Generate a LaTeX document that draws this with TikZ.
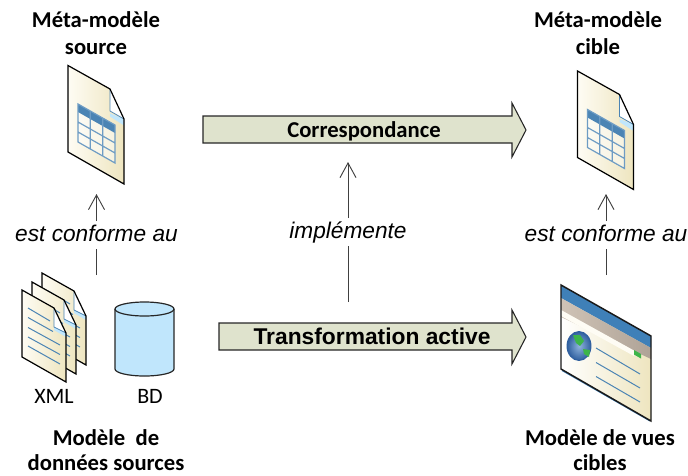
\documentclass[tikz,border=0pt]{standalone}
\usepackage{fontspec}
\usetikzlibrary{arrows.meta}
\setmainfont{Carlito}
\newfontfamily\liber{Liberation Sans}
\definecolor{arrowfill}{HTML}{DFE3CD}
\definecolor{paperA}{HTML}{FEFCF4}
\definecolor{paperB}{HTML}{EEE5BF}
\definecolor{tblue}{HTML}{6E9CC4}
\definecolor{tdark}{HTML}{4B84B4}
\definecolor{lblue}{HTML}{C0E6FC}
\definecolor{wblue}{HTML}{3F80B8}
\definecolor{wgreyA}{HTML}{CFC3B6}
\definecolor{wgreyB}{HTML}{AFA397}
\definecolor{globeA}{HTML}{8FB4DC}
\definecolor{globeB}{HTML}{2F5F9F}
\definecolor{wgreen}{HTML}{3DB54A}
\tikzset{
  x=0.75pt,y=-0.75pt,
  iconline/.style={draw=black,line width=0.9pt,line join=miter},
  conn/.style={draw=black!75,line width=0.7pt},
  connarrow/.style={conn,-{Straight Barb[length=11pt,width=12pt,line width=0.7pt]}},
  titlelabel/.style={font=\fontsize{17}{17}\selectfont\bfseries,inner sep=0pt,text height=12pt,text depth=3pt},
  smalllabel/.style={font=\fontsize{16.5}{16.5}\selectfont,inner sep=0pt},
  confolabel/.style={font=\liber\itshape\fontsize{17}{17}\selectfont,inner sep=0pt,minimum height=20.5pt,text height=12pt,text depth=3pt},
  bigarrow/.style={draw=black!85,fill=arrowfill,line width=0.8pt,line join=miter},
  textline/.style={draw=tdark,line width=0.75pt},
  docicon/.pic={
    \shade[left color=paperA,right color=paperB] (0,0)--(42,23.5)--(56,53.5)--(56,118.5)--(0,86.5)--cycle;
    \fill[lblue] (42,23.5)--(42,48)--(56,53.5)--(56,60)--(42,51)--cycle;
    \fill[white] (42,23.5)--(42,45.5)--(56,53.5)--cycle;
    \draw[tdark,line width=0.6pt] (42,23.5)--(42,45.5)--(56,53.5);
    \draw[iconline] (42,23.5)--(56,53.5)--(56,118.5)--(0,86.5)--(0,0)--(42,23.5);
    \fill[white,opacity=.45] (10,38.5)--(47,59.5)--(47,97.5)--(10,76.5)--cycle;
    \fill[tdark] (10,38.5)--(47,59.5)--(47,67.5)--(10,46.5)--cycle;
    \draw[tblue,line width=0.9pt] (10,38.5)--(47,59.5)--(47,97.5)--(10,76.5)--cycle
      (10,56.5)--(47,77.5) (10,66.5)--(47,87.5)
      (22.3,45.5)--(22.3,83.5) (34.7,52.5)--(34.7,90.5);
  },
  pageicon/.pic={
    \shade[left color=paperA,right color=paperB] (0,0)--(32,18)--(44,43)--(44,92)--(0,67)--cycle;
    \fill[lblue] (32,18)--(32,37)--(44,43)--(44,47)--(32,40)--cycle;
    \fill[white] (32,18)--(32,37)--(44,43)--cycle;
    \draw[tdark,line width=0.6pt] (32,18)--(32,37)--(44,43);
    \draw[iconline] (32,18)--(44,43)--(44,92)--(0,67)--(0,0)--(32,18);
    \draw[textline] (6,18)--(28,31) (6,27.5)--(31,41.5) (6,37.5)--(38,55) (6,47)--(38,64.5) (6,56)--(38,74);
  }
}
\begin{document}
\begin{tikzpicture}
\useasboundingbox (0,0) rectangle (688,475);
% icons
\pic at (68,65.5) {docicon};
\pic at (577.5,71) {docicon};
\pic at (42,273) {pageicon};
\pic at (32,282) {pageicon};
\pic at (22,290) {pageicon};
% database
\path[draw=black!85,fill=lblue,line width=0.9pt] (115,309) -- (115,369) arc[start angle=180,end angle=360,x radius=29.5,y radius=-7] -- (174,309) arc[start angle=0,end angle=180,x radius=29.5,y radius=-7] -- cycle;
\draw[black!85,line width=0.9pt] (115,309) arc[start angle=180,end angle=360,x radius=29.5,y radius=-7];
% web window
\shade[left color=white,right color=paperB] (561,285)--(651,336)--(651,421)--(561,369)--cycle;
\fill[wblue] (561,285)--(651,336)--(651,348)--(561,298)--cycle;
\shade[left color=wgreyA,right color=wgreyB] (561,298)--(651,348)--(651,359)--(561,317)--cycle;
\fill[paperA] (561,310)--(634,350.5)--(634,356)--(561,316)--cycle;
\fill[wgreen] (634,350)--(641,354)--(641,358.5)--(634,354.5)--cycle;
\shade[inner color=globeA,outer color=globeB] (579,346) ellipse[x radius=12,y radius=14.5];
\draw[globeB,line width=0.7pt] (579,346) ellipse[x radius=12,y radius=14.5];
\fill[wgreen] (573,335)--(580,335)--(584,341)--(580,346)--(576,343)--cycle (583,349)--(590,350)--(589,357)--(584,354)--cycle;
\draw[textline] (596,348)--(640,374) (596,362.5)--(640,388) (596,376.5)--(640,402);
\draw[wblue,line width=0.8pt] (562,370.5)--(650,421);
\draw[draw=black!90,line width=1.1pt,line join=miter] (561,285)--(651,336)--(651,421)--(561,369)--cycle;
% block arrows
\path[bigarrow] (203,116)--(512,116)--(512,103)--(526,130)--(512,157)--(512,143)--(203,143)--cycle;
\node[font=\fontsize{17}{17}\selectfont\bfseries,inner sep=0pt] (corr) at (364,131) {Correspondance};
\path[bigarrow] (219,323)--(512,323)--(512,310)--(526,337)--(512,364)--(512,350)--(219,350)--cycle;
\node[font=\liber\bfseries\fontsize{17.1}{17.1}\selectfont,inner sep=0pt] (trans) at (372,336.5) {Transformation active};
% titles
\node[titlelabel] (t1) at (96,21) {Méta-modèle};
\node[titlelabel] (t2) at (96,48) {source};
\node[titlelabel] (t3) at (598,21) {Méta-modèle};
\node[titlelabel] (t4) at (598,48) {cible};
\node[titlelabel] (t5) at (106,439) {Modèle\ \ de};
\node[titlelabel] (t6) at (106,464) {données sources};
\node[titlelabel] (t7) at (600,439) {Modèle de vues};
\node[titlelabel] (t8) at (600,464) {cibles};
\node[smalllabel] (xml) at (54,396) {XML};
\node[smalllabel] (bd) at (150,396) {BD};
% connectors
\node[confolabel] (cl) at (96.5,235) {est conforme au};
\node[confolabel] (cr) at (606,235) {est conforme au};
\node[confolabel] (im) at (348,232) {implémente};
\coordinate (clb) at (96.5,275);
\coordinate (clt) at (96.5,194);
\coordinate (crb) at (606,275);
\coordinate (crt) at (606,194);
\coordinate (imb) at (348,302);
\coordinate (imt) at (348,162);
\draw[conn] (clb) -- (cl.south);
\draw[connarrow] (cl.north) -- (clt);
\draw[conn] (crb) -- (cr.south);
\draw[connarrow] (cr.north) -- (crt);
\draw[conn] (imb) -- (im.south);
\draw[connarrow] (im.north) -- (imt);
\end{tikzpicture}
\end{document}
